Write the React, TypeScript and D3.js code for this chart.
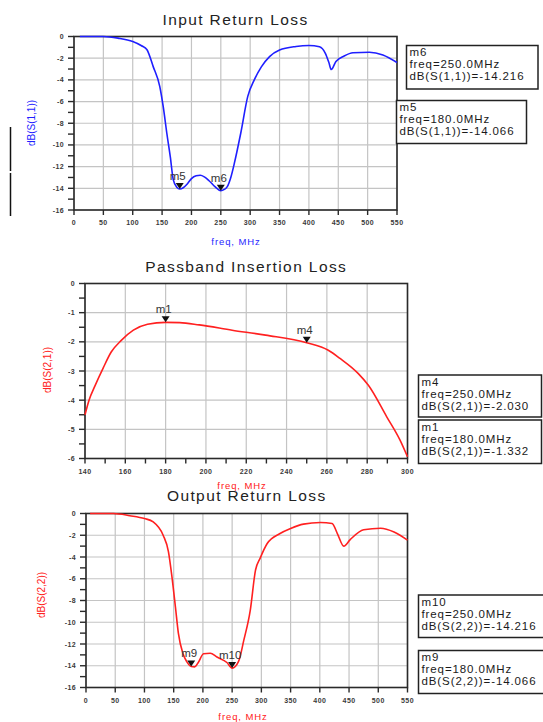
import React, { useEffect, useRef } from 'react'
import * as d3 from 'd3'

// S(1,1) input return loss
const s11Freq = [10, 50, 75, 100, 115, 124, 135, 146, 152, 158, 164, 169, 175, 180, 186, 192, 200, 208, 215, 222, 230, 240, 250, 256, 261, 267, 273, 284, 296, 307, 319, 333, 350, 378, 400, 418, 428, 434, 438, 446, 460, 475, 503, 526, 550]
const s11Db = [0, 0, -0.15, -0.46, -0.85, -1.2, -2.8, -4.6, -6.5, -8.9, -11.1, -13.2, -13.9, -14.07, -13.95, -13.65, -13.1, -12.85, -12.8, -12.95, -13.3, -13.85, -14.22, -14.1, -13.85, -13.0, -11.7, -8.9, -5.5, -4.0, -2.8, -1.85, -1.25, -0.92, -0.83, -0.95, -1.55, -2.4, -3.05, -2.3, -1.8, -1.5, -1.45, -1.7, -2.4]
const s11MarkerNames = ['m5', 'm6']
const s11MarkerFreq = [180, 250]
const s11MarkerDb = [-14.066, -14.216]

// S(2,1) passband insertion loss
const s21Freq = [140, 142, 145, 149, 153, 158, 164, 171, 180, 187, 196.7, 213, 229.6, 250, 260.7, 266.5, 275.6, 280.6, 289.7, 296.3, 300]
const s21Db = [-4.5, -4.0, -3.5, -2.9, -2.35, -1.95, -1.6, -1.4, -1.332, -1.34, -1.42, -1.6, -1.77, -2.03, -2.29, -2.57, -3.09, -3.49, -4.57, -5.37, -5.94]
const s21MarkerNames = ['m1', 'm4']
const s21MarkerFreq = [180, 250]
const s21MarkerDb = [-1.332, -2.03]

// S(2,2) output return loss
const s22Freq = [7, 47, 75, 100, 115, 132, 141, 147, 153, 158, 166, 172.6, 180, 186, 192.6, 201, 212.6, 224, 241, 250, 261, 270, 281, 290, 298, 310, 332, 350, 372, 401, 421, 430, 441, 452, 475, 504, 527, 550]
const s22Db = [0, 0, -0.2, -0.46, -0.77, -2.0, -3.5, -5.8, -8.6, -11.0, -12.9, -13.65, -14.07, -14.1, -13.65, -12.9, -12.85, -13.2, -13.7, -14.22, -13.6, -11.65, -8.9, -5.2, -4.1, -2.76, -1.84, -1.38, -0.98, -0.83, -0.92, -1.84, -3.0, -2.4, -1.5, -1.35, -1.7, -2.45]
const s22MarkerNames = ['m9', 'm10']
const s22MarkerFreq = [180, 250]
const s22MarkerDb = [-14.066, -14.216]

const returnFreqTicks = [0, 50, 100, 150, 200, 250, 300, 350, 400, 450, 500, 550]
const returnDbTicks = [0, -2, -4, -6, -8, -10, -12, -14, -16]
const passFreqTicks = [140, 160, 180, 200, 220, 240, 260, 280, 300]
const passDbTicks = [0, -1, -2, -3, -4, -5, -6]

const FONT = '"Liberation Sans", Arial, sans-serif'

interface Panel {
  title: string
  titleY: number
  yLabel: string
  yLabelX: number
  yLabelY: number
  xLabelX: number
  xLabelY: number
  color: string
  left: number
  top: number
  right: number
  bottom: number
  xTicks: number[]
  xMinor: number
  yTicks: number[]
  yMinor: number
  freq: number[]
  db: number[]
  mNames: string[]
  mFreq: number[]
  mDb: number[]
  sName: string
  boxes: { i: number; x: number; y: number; w: number; h: number }[]
}

const panels: Panel[] = [
  {
    title: 'Input Return Loss', titleY: 25,
    yLabel: 'dB(S(1,1))', yLabelX: 35, yLabelY: 123,
    xLabelX: 236, xLabelY: 245,
    color: '#1f1fff',
    left: 74, top: 36.5, right: 397, bottom: 210,
    xTicks: returnFreqTicks, xMinor: 0, yTicks: returnDbTicks, yMinor: 1,
    freq: s11Freq, db: s11Db,
    mNames: s11MarkerNames, mFreq: s11MarkerFreq, mDb: s11MarkerDb, sName: 'S(1,1)',
    boxes: [
      { i: 1, x: 406.5, y: 45.5, w: 131.5, h: 43.5 },
      { i: 0, x: 396.5, y: 100.5, w: 130, h: 43 },
    ],
  },
  {
    title: 'Passband Insertion Loss', titleY: 272,
    yLabel: 'dB(S(2,1))', yLabelX: 51, yLabelY: 370,
    xLabelX: 242, xLabelY: 489,
    color: '#ff2020',
    left: 85, top: 283.5, right: 407.5, bottom: 458.5,
    xTicks: passFreqTicks, xMinor: 10, yTicks: passDbTicks, yMinor: 0.5,
    freq: s21Freq, db: s21Db,
    mNames: s21MarkerNames, mFreq: s21MarkerFreq, mDb: s21MarkerDb, sName: 'S(2,1)',
    boxes: [
      { i: 1, x: 418.5, y: 375, w: 123, h: 42 },
      { i: 0, x: 418.5, y: 420, w: 123, h: 43.5 },
    ],
  },
  {
    title: 'Output Return Loss', titleY: 501,
    yLabel: 'dB(S(2,2))', yLabelX: 45, yLabelY: 595,
    xLabelX: 243, xLabelY: 720,
    color: '#ff2020',
    left: 86, top: 513.5, right: 407.5, bottom: 687.5,
    xTicks: returnFreqTicks, xMinor: 0, yTicks: returnDbTicks, yMinor: 1,
    freq: s22Freq, db: s22Db,
    mNames: s22MarkerNames, mFreq: s22MarkerFreq, mDb: s22MarkerDb, sName: 'S(2,2)',
    boxes: [
      { i: 1, x: 418.5, y: 595, w: 130, h: 42.5 },
      { i: 0, x: 418.5, y: 650.5, w: 130, h: 43 },
    ],
  },
]

function drawPanel(svg: d3.Selection<SVGSVGElement, unknown, null, undefined>, p: Panel) {
  const g = svg.append('g')
  const x = d3.scaleLinear()
    .domain(d3.extent(p.xTicks) as [number, number])
    .range([p.left, p.right])
  const y = d3.scaleLinear()
    .domain(d3.extent(p.yTicks) as [number, number])
    .range([p.bottom, p.top])

  // grid
  g.append('g').selectAll('line')
    .data(p.xTicks)
    .enter().append('line')
    .attr('x1', d => x(d)).attr('x2', d => x(d))
    .attr('y1', p.top).attr('y2', p.bottom)
    .attr('stroke', '#c4c4c4').attr('stroke-width', 1.2)
  g.append('g').selectAll('line')
    .data(p.yTicks)
    .enter().append('line')
    .attr('x1', p.left).attr('x2', p.right)
    .attr('y1', d => y(d)).attr('y2', d => y(d))
    .attr('stroke', '#c4c4c4').attr('stroke-width', 1.2)

  // frame
  g.append('rect')
    .attr('x', p.left).attr('y', p.top)
    .attr('width', p.right - p.left).attr('height', p.bottom - p.top)
    .attr('fill', 'none').attr('stroke', '#2a2a2a').attr('stroke-width', 1.6)

  // y axis ticks
  const yMin = d3.min(p.yTicks) as number
  const yMinorTicks = d3.range(yMin, 0.0001, p.yMinor)
  g.append('g').selectAll('line')
    .data(yMinorTicks)
    .enter().append('line')
    .attr('x1', p.left - 6).attr('x2', p.left)
    .attr('y1', d => y(d)).attr('y2', d => y(d))
    .attr('stroke', '#2a2a2a').attr('stroke-width', 1.4)
  g.append('g').selectAll('text')
    .data(p.yTicks)
    .enter().append('text')
    .attr('x', p.left - 10).attr('y', d => y(d) + 2.5)
    .attr('text-anchor', 'end')
    .attr('font-family', FONT).attr('font-size', 7).attr('font-weight', 'bold')
    .attr('letter-spacing', 0.4)
    .attr('fill', '#3a3a3a')
    .text(d => String(d))

  // x axis ticks
  const xMinorTicks = p.xMinor > 0
    ? d3.range(p.xTicks[0], p.xTicks[p.xTicks.length - 1] + 0.001, p.xMinor)
    : p.xTicks
  g.append('g').selectAll('line')
    .data(xMinorTicks)
    .enter().append('line')
    .attr('x1', d => x(d)).attr('x2', d => x(d))
    .attr('y1', p.bottom).attr('y2', p.bottom + 5)
    .attr('stroke', '#2a2a2a').attr('stroke-width', 1.4)
  g.append('g').selectAll('text')
    .data(p.xTicks)
    .enter().append('text')
    .attr('x', d => x(d)).attr('y', p.bottom + 15)
    .attr('text-anchor', 'middle')
    .attr('font-family', FONT).attr('font-size', 7).attr('font-weight', 'bold')
    .attr('letter-spacing', 0.4)
    .attr('fill', '#3a3a3a')
    .text(d => String(d))

  // labels
  g.append('text')
    .attr('x', (p.left + p.right) / 2).attr('y', p.titleY)
    .attr('text-anchor', 'middle')
    .attr('font-family', FONT).attr('font-size', 15.5).attr('letter-spacing', 1.4)
    .attr('fill', '#222')
    .text(p.title)
  g.append('text')
    .attr('x', p.xLabelX).attr('y', p.xLabelY)
    .attr('text-anchor', 'middle')
    .attr('font-family', FONT).attr('font-size', 9.5).attr('letter-spacing', 0.9)
    .attr('fill', p.color)
    .text('freq, MHz')
  g.append('text')
    .attr('transform', 'translate(' + p.yLabelX + ',' + p.yLabelY + ') rotate(-90)')
    .attr('text-anchor', 'middle')
    .attr('font-family', FONT).attr('font-size', 10)
    .attr('fill', p.color)
    .text(p.yLabel)

  // curve
  const pts = p.freq.map((f, i) => [f, p.db[i]] as [number, number])
  const line = d3.line<[number, number]>()
    .x(d => x(d[0]))
    .y(d => y(d[1]))
    .curve(d3.curveMonotoneX)
  g.append('path')
    .datum(pts)
    .attr('d', line)
    .attr('fill', 'none')
    .attr('stroke', p.color)
    .attr('stroke-width', 1.6)

  // markers
  p.mNames.forEach((name, i) => {
    const mx = x(p.mFreq[i])
    const my = y(p.mDb[i])
    g.append('path')
      .attr('d', `M${mx - 4},${my - 6}L${mx + 4},${my - 6}L${mx},${my}Z`)
      .attr('fill', '#111')
    g.append('text')
      .attr('x', mx - 2).attr('y', my - 9)
      .attr('text-anchor', 'middle')
      .attr('font-family', FONT).attr('font-size', 11.5)
      .attr('fill', '#333')
      .text(name)
  })

  // marker readout boxes
  p.boxes.forEach(b => {
    g.append('rect')
      .attr('x', b.x).attr('y', b.y).attr('width', b.w).attr('height', b.h)
      .attr('fill', '#fff').attr('stroke', '#222').attr('stroke-width', 1.5)
    const lines = [
      p.mNames[b.i],
      'freq=' + p.mFreq[b.i].toFixed(1) + 'MHz',
      'dB(' + p.sName + ')=' + p.mDb[b.i].toFixed(3),
    ]
    g.append('g').selectAll('text')
      .data(lines)
      .enter().append('text')
      .attr('x', b.x + 3)
      .attr('y', (d, k) => b.y + 10.5 + k * 12)
      .attr('font-family', FONT).attr('font-size', 11.5).attr('letter-spacing', 0.9)
      .attr('fill', '#1a1a1a')
      .text(d => d)
  })
}

export default function App() {
  const ref = useRef<SVGSVGElement>(null)

  useEffect(() => {
    const svg = d3.select(ref.current as SVGSVGElement)
    svg.selectAll('*').remove()
    svg.append('rect').attr('width', 543).attr('height', 722).attr('fill', '#fff')
    panels.forEach(p => drawPanel(svg, p))
    // stray bar to the left of the first chart
    svg.append('line').attr('x1', 10.5).attr('x2', 10.5).attr('y1', 127).attr('y2', 171)
      .attr('stroke', '#111').attr('stroke-width', 1.5)
    svg.append('line').attr('x1', 10.5).attr('x2', 10.5).attr('y1', 173).attr('y2', 216)
      .attr('stroke', '#111').attr('stroke-width', 1.5)
  }, [])

  return (
    <div style={{ position: 'absolute', left: 0, top: 0 }}>
      <svg ref={ref} width={543} height={722} style={{ display: 'block' }} />
    </div>
  )
}
